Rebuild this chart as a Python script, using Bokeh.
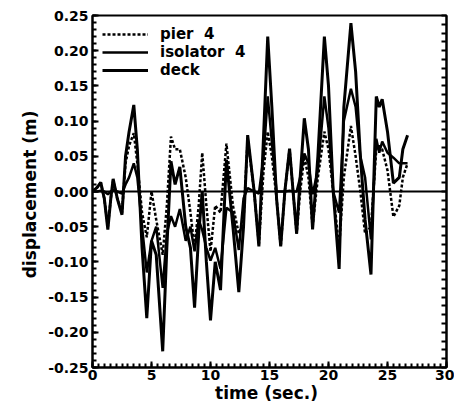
from bokeh.plotting import figure
from bokeh.models import (Range1d, FixedTicker, LinearAxis, NumeralTickFormatter,
                          Legend, LegendItem, Span)
from bokeh.embed import file_html
from bokeh.resources import INLINE

# ---- data ----
time = [0, 0.4, 0.7, 1.0, 1.3, 1.55, 1.75, 2.1, 2.5, 2.8,
        3.1, 3.5, 3.8, 4.2, 4.6, 5.0, 5.4, 5.95, 6.3, 6.65,
        7.0, 7.4, 7.9, 8.3, 8.65, 9.0, 9.3, 9.65, 10.0, 10.4,
        10.85, 11.35, 11.9, 12.4, 12.8, 13.15, 13.7, 14.1, 14.5, 14.85,
        15.2, 15.6, 15.95, 16.3, 16.7, 17.0, 17.3, 17.6, 17.95, 18.3,
        18.65, 19.1, 19.65, 20.0, 20.4, 20.9, 21.3, 21.9, 22.3, 22.7,
        23.1, 23.6, 24.05, 24.3, 24.55, 25.0, 25.5, 26.0, 26.3, 26.7]

deck = [0, 0.006, 0.013, -0.01, -0.054, -0.01, 0.018, -0.01, -0.033, 0.05,
        0.085, 0.123, 0.06, -0.08, -0.18, -0.07, -0.09, -0.227, -0.08, 0.043,
        0.01, 0.035, -0.05, -0.08, -0.165, -0.06, 0.0, -0.1, -0.183, -0.1,
        -0.14, 0.045, -0.05, -0.143, -0.05, 0.08, 0.0, -0.078, 0.08, 0.22,
        0.12, -0.01, -0.078, 0.0, 0.061, 0.0, -0.06, 0.02, 0.104, 0.06,
        -0.054, 0.05, 0.22, 0.15, 0.0, -0.11, 0.12, 0.239, 0.17, 0.05,
        -0.04, -0.118, 0.135, 0.12, 0.131, 0.085, 0.012, 0.02, 0.06, 0.08]

pier = [0, 0.006, 0.012, -0.01, -0.05, -0.01, 0.016, -0.01, -0.03, 0.04,
        0.065, 0.083, 0.04, -0.03, -0.065, 0.0, -0.04, -0.09, -0.02, 0.078,
        0.06, 0.06, 0.02, -0.03, -0.08, -0.02, 0.055, -0.02, -0.085, -0.02,
        -0.03, 0.068, -0.02, -0.06, -0.04, 0.075, 0.0, -0.075, 0.03, 0.085,
        0.05, -0.01, -0.078, 0.0, 0.06, 0.0, -0.06, 0.0, 0.05, 0.02,
        -0.05, 0.02, 0.085, 0.06, 0.0, -0.08, 0.02, 0.093, 0.05, 0.0,
        -0.06, -0.05, 0.06, 0.065, 0.06, 0.03, -0.036, -0.02, 0.02, 0.04]

isolator = [0, 0, 0.001, 0, -0.004, 0, 0.002, 0, -0.003, 0.01,
            0.02, 0.04, 0.02, -0.05, -0.115, -0.07, -0.05, -0.137, -0.06, -0.035,
            -0.05, -0.025, -0.07, -0.05, -0.085, -0.04, -0.055, -0.08, -0.098, -0.08,
            -0.11, -0.023, -0.03, -0.083, -0.01, 0.005, 0.0, -0.003, 0.05, 0.135,
            0.07, 0.0, 0.0, 0.0, 0.001, 0.0, 0.0, 0.02, 0.054, 0.04,
            -0.004, 0.03, 0.135, 0.09, 0.0, -0.03, 0.10, 0.146, 0.12, 0.05,
            0.02, -0.068, 0.075, 0.055, 0.071, 0.055, 0.048, 0.04, 0.04, 0.04]

x_ticks = [0, 5, 10, 15, 20, 25, 30]
y_ticks = [-0.25, -0.20, -0.15, -0.10, -0.05, 0.0, 0.05, 0.10, 0.15, 0.20, 0.25]
series_labels = ["pier  4", "isolator  4", "deck"]

FONT = "DejaVu Sans"

p = figure(width=454, height=405, output_backend="svg",
           toolbar_location=None, x_range=Range1d(0, 30), y_range=Range1d(-0.25, 0.25),
           min_border_left=92, min_border_top=15, min_border_right=8, min_border_bottom=38)
p.background_fill_color = "white"
p.border_fill_color = "white"
p.grid.visible = False
p.outline_line_color = "black"
p.outline_line_width = 2

x_minor = [i * 0.5 for i in range(61)]
y_minor_left = [round(-0.25 + i * 0.01, 3) for i in range(51)]
y_minor_right = [round(-0.25 + i * 0.0125, 4) for i in range(41)]

xa = p.xaxis[0]
xa.ticker = FixedTicker(ticks=x_ticks, minor_ticks=x_minor)
ya = p.yaxis[0]
ya.ticker = FixedTicker(ticks=y_ticks, minor_ticks=y_minor_left)
ya.formatter = NumeralTickFormatter(format="0.00")

for ax in (xa, ya):
    ax.axis_line_width = 2
    ax.major_tick_in = 6
    ax.major_tick_out = 0
    ax.minor_tick_in = 4
    ax.minor_tick_out = 0
    ax.major_tick_line_width = 2
    ax.minor_tick_line_width = 2
    ax.major_label_text_font = FONT
    ax.major_label_text_font_style = "bold"
    ax.major_label_text_font_size = "14px"
    ax.major_label_text_color = "black"
    ax.axis_label_text_font = FONT
    ax.axis_label_text_font_style = "bold"
    ax.axis_label_text_font_size = "17px"
    ax.axis_label_text_color = "black"

xa.axis_label = "time  (sec.)"
xa.major_label_standoff = 2
xa.axis_label_standoff = 0
ya.axis_label = "displacement  (m)"
ya.major_label_standoff = 4
ya.axis_label_standoff = 5

# right-hand axis: ticks only, no labels
ra = LinearAxis(ticker=FixedTicker(ticks=[], minor_ticks=y_minor_right))
ra.axis_line_width = 2
ra.minor_tick_in = 5
ra.minor_tick_out = 0
ra.minor_tick_line_width = 2
ra.major_label_standoff = 0
p.add_layout(ra, "right")

p.add_layout(Span(location=0, dimension="width", line_color="black", line_width=2))

r_pier = p.line(time, pier, line_color="black", line_width=2.5, line_dash="3 2")
r_iso = p.line(time, isolator, line_color="black", line_width=2.5)
r_deck = p.line(time, deck, line_color="black", line_width=3)

legend = Legend(items=[LegendItem(label=series_labels[0], renderers=[r_pier]),
                       LegendItem(label=series_labels[1], renderers=[r_iso]),
                       LegendItem(label=series_labels[2], renderers=[r_deck])],
                location="top_left")
legend.border_line_alpha = 0
legend.background_fill_alpha = 0
legend.margin = 6
legend.padding = 4
legend.spacing = 0
legend.glyph_width = 46
legend.glyph_height = 16
legend.label_height = 16
legend.label_standoff = 12
legend.label_text_font = FONT
legend.label_text_font_style = "bold"
legend.label_text_font_size = "15px"
legend.label_text_color = "black"
legend.label_text_line_height = 1.0
p.add_layout(legend)

open("out.html", "w").write(file_html(p, INLINE))
